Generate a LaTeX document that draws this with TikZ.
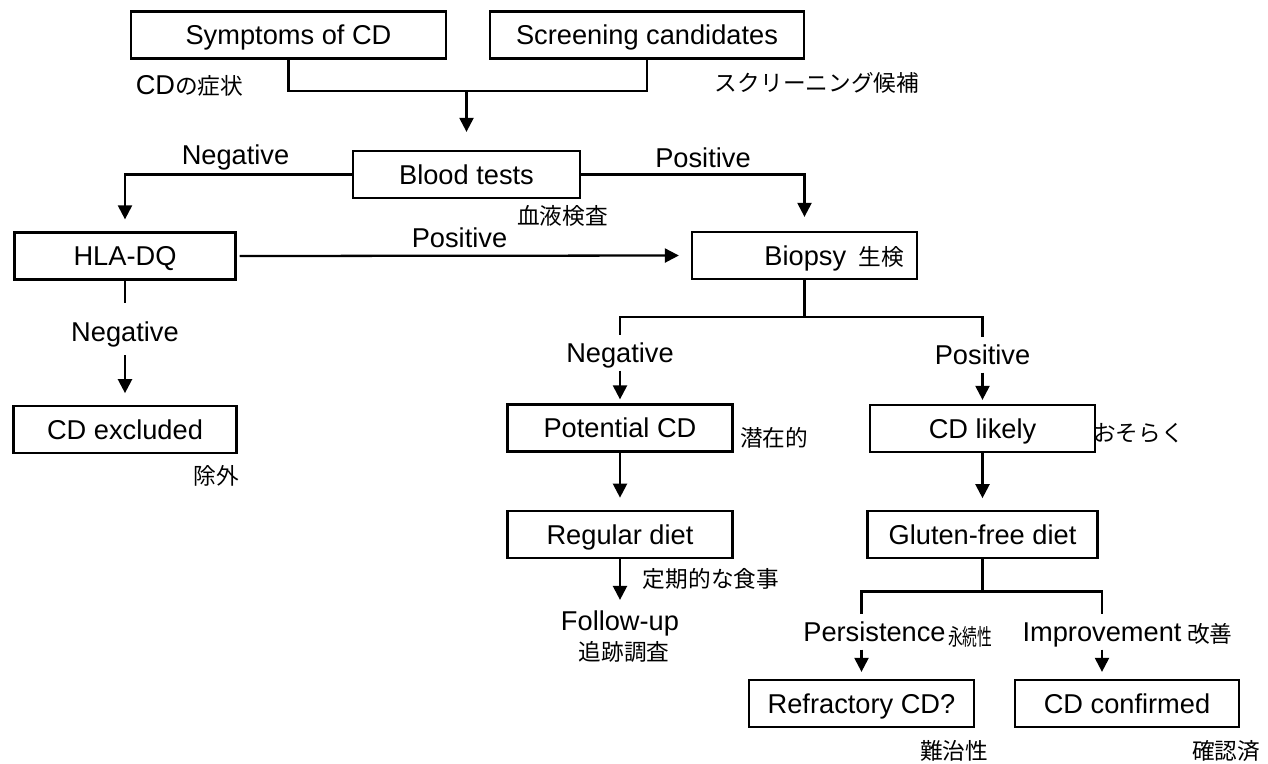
\documentclass[tikz,border=0pt]{standalone}
\usepackage{graphicx}
\usepackage{fontspec}
\setmainfont{Liberation Sans}
\newfontfamily\jpfont{Noto Sans CJK JP}
\usetikzlibrary{positioning,arrows.meta}

\begin{document}
\begin{tikzpicture}[node distance=1.14cm,
    box/.style={draw, line width=1.3pt, minimum width=4.5cm, minimum height=0.94cm, inner sep=0pt, text height=11.1pt, text depth=0pt, font=\fontsize{15.5}{18}\selectfont},
    lbl/.style={inner xsep=0pt, inner ysep=0.15cm, text height=11.1pt, text depth=0pt, font=\fontsize{15.5}{18}\selectfont},
    jp/.style={inner sep=0pt, font=\jpfont\fontsize{12.9}{15}\selectfont},
    line/.style={line width=1.3pt},
    arr/.style={line width=1.3pt, -{Triangle[width=8pt,length=8pt]}, shorten >=0.22cm}]
    \useasboundingbox (0,0) rectangle (25.36,-15.26);

    % boxes
    \node (sym) [box, minimum width=6.3cm] at (5.77,-0.70) {Symptoms of CD};
    \node (scr) [box, minimum width=6.28cm] at (12.94,-0.70) {Screening candidates};
    \node (blood) [box, minimum width=4.54cm] at (9.33,-3.49) {Blood tests};
    \node (hla) [box, minimum width=4.42cm] at (2.5,-5.12) {HLA-DQ};
    \node (bio) [box, align=right, text width=3.98cm, inner xsep=0.26cm] at (16.09,-5.11) {Biopsy\hspace{0.25cm}{\jpfont\fontsize{12.9}{15}\selectfont 生検}};
    \node (excl) [box, minimum width=4.46cm, below=2.49cm of hla] {CD excluded};
    \node (pot) [box] at (12.4,-8.56) {Potential CD};
    \node (likely) [box] at (19.65,-8.57) {CD likely};
    \node (reg) [box, below=of pot] {Regular diet};
    \node (gfd) [box, minimum width=4.6cm, below=of likely] {Gluten-free diet};
    \node (refr) [box] at (17.23,-14.07) {Refractory CD?};
    \node (conf) [box, minimum width=4.48cm] at (22.54,-14.07) {CD confirmed};

    % branch labels
    \node (neg1) [lbl] at (4.71,-3.10) {Negative};
    \node (pos1) [lbl] at (14.06,-3.16) {Positive};
    \node (pos2) [lbl] at (9.19,-4.76) {Positive};
    \node (neg2) [lbl] at (2.5,-6.64) {Negative};
    \node (neg3) [lbl] at (12.4,-7.06) {Negative};
    \node (pos3) [lbl] at (19.65,-7.10) {Positive};
    \node (fu) [lbl] at (12.4,-12.42) {Follow-up};
    \node (pers) [lbl] at (17.49,-12.64) {Persistence};
    \node (imp) [lbl] at (22.04,-12.64) {Improvement};

    % japanese notes
    \node (symjp) [jp] at (3.79,-1.72) {{\normalfont\fontsize{15.5}{18}\selectfont CD}の症状};
    \node (scrjp) [jp] at (16.34,-1.66) {スクリーニング候補};
    \node (bloodjp) [jp] at (11.25,-4.32) {血液検査};
    \node (excljp) [jp] at (4.33,-9.52) {除外};
    \node (potjp) [jp] at (15.48,-8.76) {潜在的};
    \node (likelyjp) [jp] at (22.77,-8.66) {おそらく};
    \node (regjp) [jp] at (14.22,-11.58) {定期的な食事};
    \node (fujp) [jp] at (12.48,-13.03) {追跡調査};
    \node (persjp) [jp, anchor=west, xshift=1pt, yshift=-0.1cm] at (pers.east) {\scalebox{0.65}[1]{永続性}};
    \node (impjp) [jp, anchor=west, xshift=0.1cm, yshift=-0.04cm] at (imp.east) {改善};
    \node (refrjp) [jp] at (19.08,-15.02) {難治性};
    \node (confjp) [jp] at (24.52,-15.02) {確認済};

    % connectors
    \coordinate (join) at (9.33,-1.82);
    \draw[line] (sym.south) |- (join) -| (scr.south);
    \draw[arr, shorten >=0.36cm] (join) -- (blood.north);
    \draw[arr, shorten >=0.24cm] (blood.west) -| (hla.north);
    \draw[arr, shorten >=0.28cm] (blood.east) -| (bio.north);
    \draw[arr, shorten <=0.06cm, shorten >=0.24cm] (hla.east) -- (bio.west);
    \draw[line, shorten >=0.23cm] (hla.south) -- (neg2.north);
    \draw[arr, shorten <=0.11cm, shorten >=0.24cm] (neg2.south) -- (excl.north);
    \draw[line] (bio.south) -- ++(0,-0.74) -| (neg3.north);
    \draw[line] (bio.south) -- ++(0,-0.74) -| (pos3.north);
    \draw[arr, shorten >=0.08cm] (neg3.south) -- (pot.north);
    \draw[arr, shorten >=0.08cm] (pos3.south) -- (likely.north);
    \draw[arr, shorten >=0.24cm] (pot) -- (reg);
    \draw[arr, shorten >=0.24cm] (likely) -- (gfd);
    \draw[arr, shorten >=0.07cm] (reg.south) -- (fu.north);
    \draw[line] (gfd.south) -- ++(0,-0.64) -| (refr.north |- pers.north);
    \draw[line] (gfd.south) -- ++(0,-0.64) -| (imp.north);
    \draw[arr, shorten >=0.14cm] (refr.north |- pers.south) -- (refr.north);
    \draw[arr, shorten >=0.14cm] (imp.south) -- (imp.south |- conf.north);
\end{tikzpicture}
\end{document}
